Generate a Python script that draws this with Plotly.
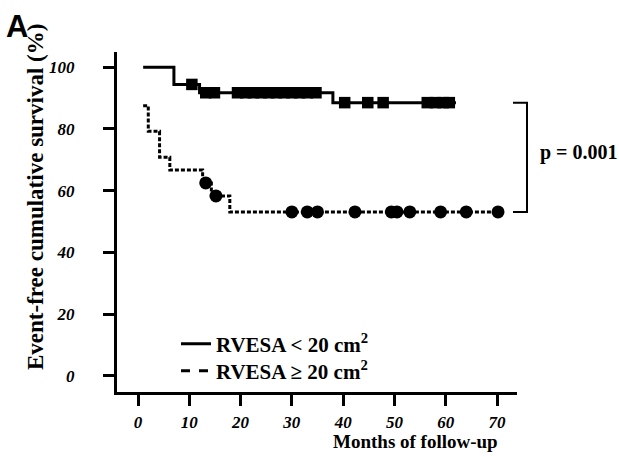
import plotly.graph_objects as go

# ---- data ----
low_step_months = [1, 7, 12, 38, 62]
low_step_surv = [100, 94.4, 91.7, 88.5, 88.5]
low_censor_months = [10.5, 13.2, 14.9, 19.4, 21, 22.5, 24, 25.5, 27, 28.5, 30, 31.5,
                     33, 34.7, 40.3, 44.8, 47.8, 56.4, 58, 59.5, 60.7]

high_step_months = [1, 2, 4.2, 6.2, 12.6, 14.3, 17.9, 71]
high_step_surv = [87.5, 79.2, 70.8, 66.7, 62.5, 58.3, 53.1, 53.1]
high_censor_months = [13.2, 15.2, 30, 33, 35, 42.3, 49.4, 50.5, 53, 59, 64, 70.2]

x_ticks = [0, 10, 20, 30, 40, 50, 60, 70]
y_ticks = [0, 20, 40, 60, 80, 100]

labels = ["RVESA < 20 cm<sup>2</sup>", "RVESA \u2265 20 cm<sup>2</sup>"]
p_text = "p = 0.001"


def step_value(months, surv, t):
    v = surv[0]
    for m, s in zip(months, surv):
        if m <= t:
            v = s
    return v


low_censor_surv = [step_value(low_step_months, low_step_surv, t) for t in low_censor_months]
high_censor_surv = [step_value(high_step_months, high_step_surv, t) for t in high_censor_months]

# ---- layout geometry ----
W, H = 619, 457
L, R, T, B = 117, 102, 52, 65
PW, PH = W - L - R, H - T - B


def px_x(p):
    return (p - L) / PW


def px_y(p):
    return (H - B - p) / PH


SERIF = "Liberation Serif"

fig = go.Figure()

fig.add_trace(go.Scatter(x=low_step_months, y=low_step_surv, mode="lines",
                         line=dict(color="black", width=3, shape="hv"),
                         showlegend=False, hoverinfo="skip"))
fig.add_trace(go.Scatter(x=low_censor_months, y=low_censor_surv, mode="markers",
                         marker=dict(symbol="square", size=11.5, color="black"),
                         showlegend=False))
fig.add_trace(go.Scatter(x=high_step_months, y=high_step_surv, mode="lines",
                         line=dict(color="black", width=3, shape="hv", dash="4px,2px"),
                         showlegend=False, hoverinfo="skip"))
fig.add_trace(go.Scatter(x=high_censor_months, y=high_censor_surv, mode="markers",
                         marker=dict(symbol="circle", size=13, color="black"),
                         showlegend=False))

# legend entries (one legend per entry so the row spacing can match)
fig.add_trace(go.Scatter(x=[None], y=[None], mode="lines", name=labels[0],
                         line=dict(color="black", width=3), legend="legend"))
fig.add_trace(go.Scatter(x=[None], y=[None], mode="lines", name=labels[1],
                         line=dict(color="black", width=3, dash="dash"), legend="legend2"))

tickfont = dict(family=SERIF, size=17, color="black", weight="bold", style="italic")
legfont = dict(family=SERIF, size=21, color="black", weight="bold")

fig.update_layout(
    width=W, height=H,
    margin=dict(l=L, r=R, t=T, b=B, autoexpand=False),
    paper_bgcolor="white", plot_bgcolor="white",
    showlegend=True,
    legend=dict(x=px_x(176), y=px_y(344), xanchor="left", yanchor="middle",
                bgcolor="rgba(0,0,0,0)", font=legfont),
    legend2=dict(x=px_x(176), y=px_y(371), xanchor="left", yanchor="middle",
                 bgcolor="rgba(0,0,0,0)", font=legfont),
    xaxis=dict(range=[-4.1, 73.9], tickvals=x_ticks, showgrid=False, zeroline=False,
               showline=True, linecolor="black", linewidth=3,
               ticks="outside", ticklen=11, tickwidth=3, tickcolor="black",
               tickfont=tickfont, ticklabelstandoff=2),
    yaxis=dict(range=[-5.2, 104.9], tickvals=y_ticks, showgrid=False, zeroline=False,
               showline=True, linecolor="black", linewidth=3,
               ticks="outside", ticklen=11, tickwidth=3, tickcolor="black",
               tickfont=tickfont, ticklabelstandoff=25),
)

# bracket tying the two final survival levels
top_y = low_step_surv[-1]
bot_y = high_step_surv[-1]
fig.add_shape(type="path", xref="paper", yref="y",
              path=f"M {px_x(513)},{top_y} L {px_x(527)},{top_y} L {px_x(527)},{bot_y} L {px_x(513)},{bot_y}",
              line=dict(color="black", width=2))

fig.add_annotation(text=p_text, xref="paper", yref="paper", x=px_x(538), y=px_y(152),
                   xanchor="left", yanchor="middle", showarrow=False,
                   font=dict(family=SERIF, size=20, color="black", weight="bold"))

fig.add_annotation(text="Months of follow-up", xref="paper", yref="paper",
                   x=px_x(415), y=px_y(441), xanchor="center", yanchor="middle",
                   showarrow=False,
                   font=dict(family=SERIF, size=19, color="black", weight="bold"))

fig.add_annotation(text="Event-free cumulative survival (%)", xref="paper", yref="paper",
                   x=px_x(35), y=px_y(197), xanchor="center", yanchor="middle",
                   textangle=-90, showarrow=False,
                   font=dict(family=SERIF, size=23, color="black", weight="bold"))

fig.add_annotation(text="A", xref="paper", yref="paper",
                   x=px_x(4), y=px_y(7), xanchor="left", yanchor="top",
                   showarrow=False,
                   font=dict(family="Liberation Sans", size=31, color="black", weight="bold"))

fig.write_html("out.html",
               config={"displayModeBar": False},
               post_script="document.body.style.margin='0';document.body.style.overflow='hidden';")
